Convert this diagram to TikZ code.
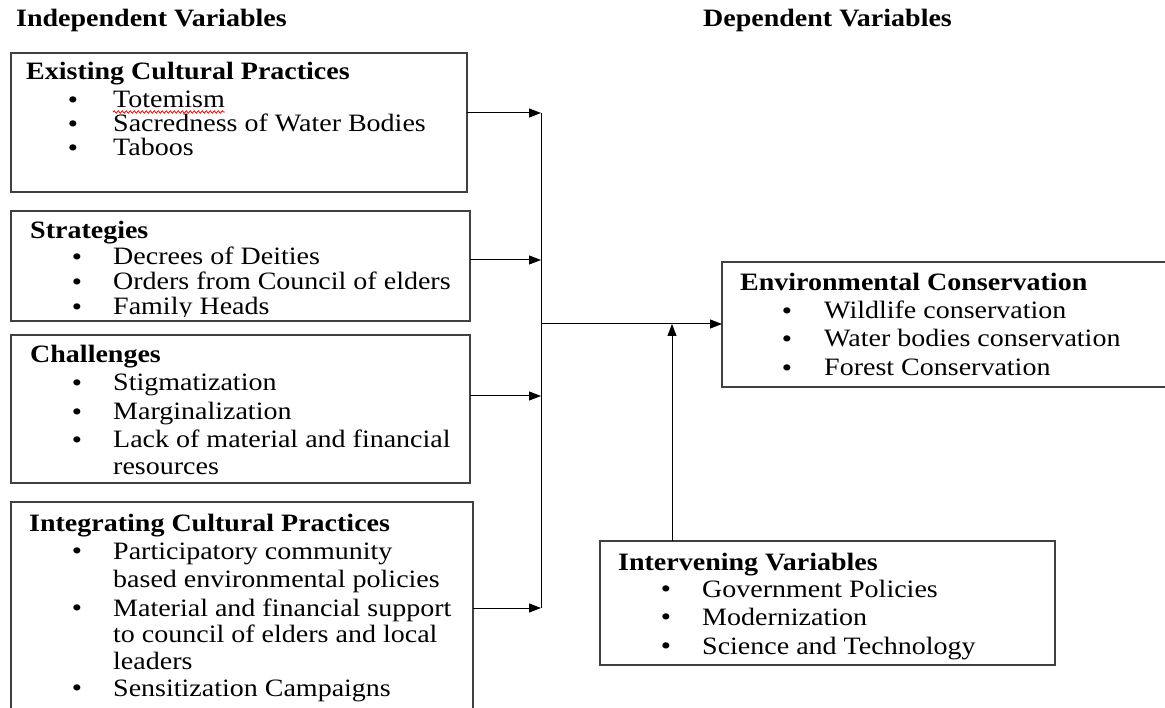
\documentclass[tikz,border=0pt]{standalone}
\usepackage{fontspec}
\setmainfont[FakeStretch=1.12]{Liberation Serif}
\usetikzlibrary{arrows.meta,decorations.pathmorphing,calc}
\begin{document}
\begin{tikzpicture}[x=1pt,y=-1pt,
  font=\fontsize{25}{29}\selectfont,
  box/.style={draw=black!75, line width=1.2pt, rectangle, anchor=north west, inner sep=0pt, outer sep=0pt},
  hd/.style={font=\fontsize{25}{29}\selectfont\bfseries, anchor=base west, inner sep=0pt},
  itm/.style={anchor=base west, inner sep=0pt},
  bul/.style={font=\fontsize{26}{26}\selectfont, anchor=base, inner sep=0pt, yshift=-0.5pt},
  conn/.style={line width=1pt, black},
  arr/.style={conn, -{Triangle[length=12pt,width=9pt]}}]
\useasboundingbox (0,0) rectangle (1165,708);
\clip (0,0) rectangle (1165,708);

% headings
\node[hd] (indep) at (16,27) {Independent Variables};
\node[hd] (dep) at (703,27) {Dependent Variables};

% boxes
\node[box, minimum width=456pt, minimum height=139pt] (b1) at (11,53) {};
\node[box, minimum width=459pt, minimum height=110pt] (b2) at (11,211) {};
\node[box, minimum width=459pt, minimum height=148pt] (b3) at (11,335) {};
\node[box, minimum width=462pt, minimum height=230pt] (b4) at (11,502) {};
\node[box, minimum width=460pt, minimum height=125pt] (env) at (722,262) {};
\node[box, minimum width=455pt, minimum height=124pt] (inter) at (600,541) {};

% box 1
\node[hd] (b1t) at (26,80) {Existing Cultural Practices};
\node[bul] (b1b1) at (73,108) {•};
\node[itm] (tot) at (113,108) {Totemism};
\node[bul] (b1b2) at (73,132) {•};
\node[itm] (b1i2) at (113,132) {Sacredness of Water Bodies};
\node[bul] (b1b3) at (73,156) {•};
\node[itm] (b1i3) at (113,156) {Taboos};
\draw[red, line width=0.8pt, decorate, decoration={snake, amplitude=1.2pt, segment length=4pt}]
  ($(tot.base west)+(0,4)$) -- ($(tot.base east)+(0,4)$);

% box 2
\node[hd] (b2t) at (30,239) {Strategies};
\node[bul] (b2b1) at (77,265) {•};
\node[itm] (b2i1) at (113,265) {Decrees of Deities};
\node[bul] (b2b2) at (77,290) {•};
\node[itm] (b2i2) at (113,290) {Orders from Council of elders};
\node[bul] (b2b3) at (77,315) {•};
\begin{scope}
\clip (0,0) rectangle (1165,317);
\node[itm] (b2i3) at (113,315) {Family Heads};
\end{scope}

% box 3
\node[hd] (b3t) at (30,363) {Challenges};
\node[bul] (b3b1) at (77,391) {•};
\node[itm] (b3i1) at (113,391) {Stigmatization};
\node[bul] (b3b2) at (77,420) {•};
\node[itm] (b3i2) at (113,420) {Marginalization};
\node[bul] (b3b3) at (77,448) {•};
\node[itm] (b3i3) at (113,448) {Lack of material and financial};
\node[itm] (b3i4) at (113,475) {resources};

% box 4
\node[hd] (b4t) at (29,531) {Integrating Cultural Practices};
\node[bul] (b4b1) at (77,559) {•};
\node[itm] (b4i1) at (113,559) {Participatory community};
\node[itm] (b4i2) at (113,587) {based environmental policies};
\node[bul] (b4b2) at (77,616) {•};
\node[itm] (b4i3) at (113,616) {Material and financial support};
\node[itm] (b4i4) at (113,642) {to council of elders and local};
\node[itm] (b4i5) at (113,669) {leaders};
\node[bul] (b4b3) at (77,696) {•};
\node[itm] (b4i6) at (113,696) {Sensitization Campaigns};

% environmental conservation
\node[hd] (envt) at (740,291) {Environmental Conservation};
\node[bul] (eb1) at (787,319) {•};
\node[itm] (ei1) at (824,319) {Wildlife conservation};
\node[bul] (eb2) at (787,347) {•};
\node[itm] (ei2) at (824,347) {Water bodies conservation};
\node[bul] (eb3) at (787,376) {•};
\node[itm] (ei3) at (824,376) {Forest Conservation};

% intervening variables
\node[hd] (intt) at (618,570) {Intervening Variables};
\node[bul] (ib1) at (666,597) {•};
\node[itm] (ii1) at (702,597) {Government Policies};
\node[bul] (ib2) at (666,625) {•};
\node[itm] (ii2) at (702,625) {Modernization};
\node[bul] (ib3) at (666,654) {•};
\node[itm] (ii3) at (702,654) {Science and Technology};

% connectors
\coordinate (j1) at (541,113);
\coordinate (j2) at (541,260);
\coordinate (j3) at (541,396);
\coordinate (j4) at (541,608);
\coordinate (jm) at (541,324);
\coordinate (up) at (672,324);
\draw[conn] (j1) -- (j4);
\draw[arr] (b1.east |- j1) -- (j1);
\draw[arr] (b2.east |- j2) -- (j2);
\draw[arr] (b3.east |- j3) -- (j3);
\draw[arr] (b4.east |- j4) -- (j4);
\draw[arr] (jm) -- (env.west |- jm);
\draw[arr] (inter.north -| up) -- (up);
\end{tikzpicture}
\end{document}
